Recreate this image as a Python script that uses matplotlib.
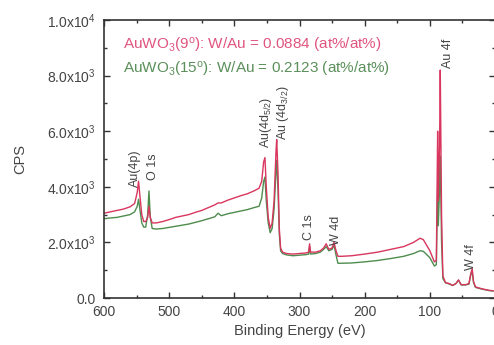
import matplotlib
matplotlib.use("Agg")
import matplotlib.pyplot as plt
from matplotlib.ticker import MultipleLocator, FixedLocator, FixedFormatter

plt.rcParams['font.family'] = ['Liberation Sans', 'DejaVu Sans']
plt.rcParams['mathtext.fontset'] = 'custom'
plt.rcParams['mathtext.rm'] = 'Liberation Sans'
plt.rcParams['mathtext.it'] = 'Liberation Sans'

energy = [600, 590, 580, 570, 560, 553, 549, 547, 545, 542, 539, 536, 533, 531, 529, 526,
          520, 510, 500, 490, 480, 470, 460, 450, 440, 430, 425, 420, 410, 400, 390, 380,
          370, 362, 358, 355, 353, 351, 348, 345, 342, 339, 336, 335, 333, 331, 329, 326,
          320, 310, 300, 290, 286, 284.5, 283, 275, 268, 263, 259, 255, 250, 247, 244, 241,
          235, 220, 200, 180, 160, 140, 125, 115, 110, 100, 93, 90, 88, 87, 85, 84,
          82, 80, 76, 70, 65, 60, 56, 52, 45, 40, 37, 35, 33, 30, 20, 10, 3]

cps_9deg = [3050, 3100, 3150, 3200, 3280, 3400, 3800, 4200, 3700, 3000, 2750, 2750, 2900, 3300, 2900, 2700,
            2700, 2750, 2820, 2900, 2950, 3000, 3080, 3150, 3250, 3350, 3420, 3420, 3520, 3600, 3680, 3750,
            3850, 3950, 4200, 4900, 5050, 4000, 2900, 2500, 2700, 3500, 5300, 5700, 4500, 2500, 1800, 1650,
            1600, 1580, 1600, 1620, 1650, 1950, 1650, 1650, 1700, 1800, 1950, 1750, 1800, 2000, 1700, 1500,
            1500, 1520, 1580, 1650, 1750, 1850, 2000, 2150, 2100, 1700, 1300, 1350, 6000, 3500, 5500, 8200,
            3000, 800, 550, 520, 450, 520, 650, 480, 480, 520, 900, 1050, 600, 400, 330, 280, 260]

cps_15deg = [2850, 2880, 2900, 2950, 3000, 3100, 3300, 3550, 3200, 2700, 2550, 2550, 3000, 3850, 2900, 2500,
             2480, 2500, 2540, 2580, 2620, 2660, 2720, 2780, 2850, 2920, 3050, 2960, 3030, 3080, 3130, 3180,
             3250, 3300, 3600, 4200, 4350, 3500, 2700, 2350, 2500, 3200, 4600, 4950, 3900, 2300, 1700, 1600,
             1550, 1520, 1540, 1560, 1580, 1850, 1580, 1600, 1650, 1750, 1850, 1700, 1750, 1900, 1550, 1250,
             1250, 1260, 1300, 1350, 1420, 1500, 1600, 1700, 1680, 1450, 1150, 1200, 4000, 2600, 4000, 5100,
             2000, 700, 550, 500, 450, 520, 640, 470, 470, 500, 850, 950, 560, 380, 320, 270, 250]

peak_labels = ["Au(4p)", "O 1s", r"Au(4d$_{5/2}$)", r"Au (4d$_{3/2}$)", "C 1s", "W 4d", "Au 4f", "W 4f"]
peak_label_x = [553, 525, 352, 326, 285, 244, 72, 37]
peak_label_y = [4000, 4250, 5400, 5680, 2090, 1900, 8270, 1000]

legend_texts = [r"AuWO$_3$(9$^o$): W/Au = 0.0884 (at%/at%)",
                r"AuWO$_3$(15$^o$): W/Au = 0.2123 (at%/at%)"]

yticks = [0, 2000, 4000, 6000, 8000, 10000]
yticklabels = ["0.0", r"2.0x10$^3$", r"4.0x10$^3$", r"6.0x10$^3$", r"8.0x10$^3$", r"1.0x10$^4$"]

red = '#d8365e'
green = '#4e8c4e'
txt = '#444444'

fig = plt.figure(figsize=(4.94, 3.45), dpi=100)
ax = fig.add_axes([104/494, 47/345, 391/494, 278/345])

ax.plot(energy, cps_15deg, color=green, lw=1.0)
ax.plot(energy, cps_9deg, color=red, lw=1.0)

ax.set_xlim(600, 0)
ax.set_ylim(0, 10000)
ax.xaxis.set_major_locator(MultipleLocator(100))
ax.xaxis.set_minor_locator(MultipleLocator(50))
ax.yaxis.set_major_locator(FixedLocator(yticks))
ax.yaxis.set_major_formatter(FixedFormatter(yticklabels))
ax.yaxis.set_minor_locator(MultipleLocator(1000))
ax.tick_params(which='both', direction='in', top=True, right=True, colors='#333333',
               labelcolor=txt, labelsize=10)
ax.tick_params(axis='x', pad=5)
ax.tick_params(axis='y', pad=6)
ax.tick_params(which='major', length=4, width=1)
ax.tick_params(which='minor', length=2.5, width=1)
for s in ax.spines.values():
    s.set_linewidth(1.2)
    s.set_color('#333333')

ax.set_xlabel("Binding Energy (eV)", fontsize=10.5, color=txt, labelpad=4)
ax.set_ylabel("CPS", fontsize=10.5, color=txt, labelpad=14)

for lab, x, y in zip(peak_labels, peak_label_x, peak_label_y):
    ax.text(x, y, lab, rotation=90, ha='center', va='bottom', fontsize=9, color=txt)

ax.text(571, 9080, legend_texts[0], color='#e05580', fontsize=11, va='center', ha='left')
ax.text(571, 8230, legend_texts[1], color='#5a8f5a', fontsize=11, va='center', ha='left')

fig.savefig("out.png", dpi=100)
